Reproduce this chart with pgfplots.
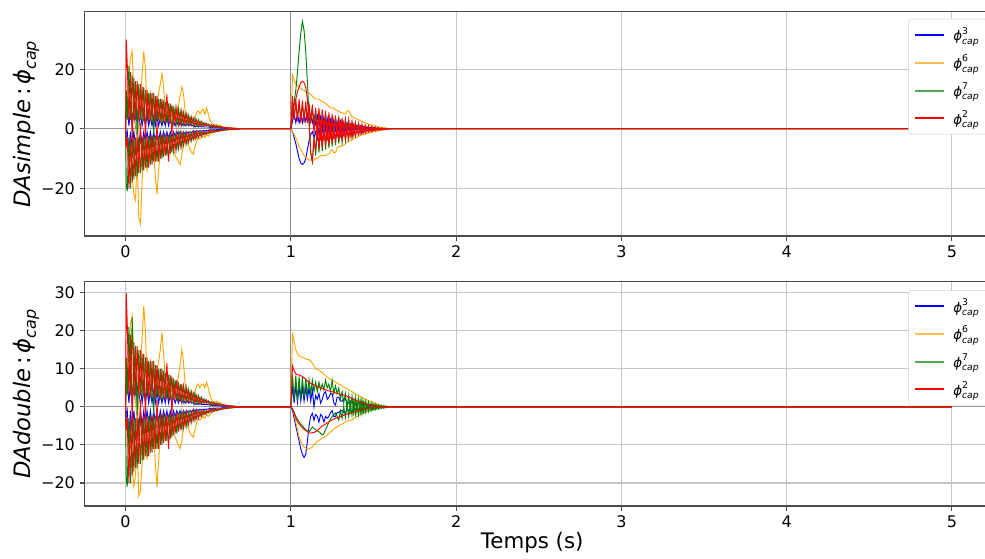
\documentclass[border=0pt]{standalone}
\usepackage{fontspec}
\setmainfont{DejaVu Sans}
\usepackage{pgfplots}
\usepackage{pgfplotstable}
\pgfplotsset{compat=1.18}
\definecolor{mplblue}{RGB}{0,0,255}
\definecolor{mplorange}{RGB}{255,165,0}
\definecolor{mplgreen}{RGB}{0,128,0}
\definecolor{mplred}{RGB}{255,0,0}
\definecolor{legorange}{RGB}{255,190,80}
\definecolor{leggreen}{RGB}{80,170,80}
\definecolor{legframe}{RGB}{210,210,210}
\newcommand{\lphi}[1]{$\mbox{\itshape ϕ}^{\mbox{\fontsize{7}{8}\selectfont #1}}_{\mbox{\fontsize{7}{8}\selectfont\itshape cap}}$}
\newcommand{\yphi}{$\mbox{\itshape ϕ}_{\mbox{\fontsize{12}{14}\selectfont\itshape cap}}$}

\pgfplotstableread{
t     b1   b2   o1   o2   g1   g2   r1   r2
0     0    0    0    0    0    0    0    0
0.004 5   -3    6   -6   13  -19   30   -6
0.01  7.7 -1    8   -5    3  -21   22   -3
0.02  1   -7   18  -12   21   -3    3  -20
0.03  6.7 -1   24   -8    3  -20   19   -3
0.04  1  -6.3  26  -16   18   -3   -4  -18
0.05  6   -1   12  -22    3  -17   17   -3
0.06  1  -5.6   2  -24   16   -3    3  -16
0.07  5.6 -1   -6  -10   -2  -16   16   -3
0.08  1  -5.3   3  -30   15   -3    3  -15
0.09  5.3 -1   10  -32    3  -15   15    2
0.10  1  -4.9  18  -18   14   -3    3  -14
0.11  4.9 -1   26   -6  2.5  -14   14 -2.5
0.12  1  -4.6  20  -10   13 -2.5   -3  -13
0.13  4.6 -1    6  -14  2.5  -13   13 -2.5
0.14  1  -4.6   9   -8   12 -2.5  2.5  -13
0.15  4.2 -1   12   -5  2.5  -12   12 -2.5
0.16  1  -4.2   5   -9   12 -2.5  2.5  -12
0.17  4.2 -1    8   -7   -2  -11   12 -2.5
0.18  1  -3.9   4  -16   11 -2.5  2.5  -11
0.19  3.9 -1    9  -22  2.5  -11   11    2
0.20  1  -3.9  12  -14   10 -2.5  2.5  -11
0.21  3.5 -1   15   -8    2  -10   10   -2
0.22  1  -3.5 18.5  -6   10   -2    2  -10
0.23  3.3 -1   14   -4    2 -9.5  9.5   -2
0.24  1  -3.2   7   -7    9   -2    2   -9
0.25  4   -1    5   -5    2   -9 11.5   -2
0.26  1  -3.9   6   -4  8.5   -2    2  -11
0.27  3   -1    4   -6    2 -8.5  8.5   -2
0.28  1  -2.8   5   -5    8   -2   -2   -8
0.29  2.6 -1    3   -7    2 -7.5  7.5   -2
0.30  1  -2.5   4   -9    7   -2    2   -7
0.31  2.5 -1    6  -10  1.5   -7    7 -1.5
0.32  1  -2.3   8  -11  6.5 -1.5  1.5 -6.5
0.33  2.1 -1   11  -12  1.5   -6    6 -1.5
0.34  1  -2.1  14   -9    6 -1.5  1.5   -6
0.35  1.9 -1   12   -5  1.5 -5.5  5.5 -1.5
0.36  1  -1.8   6   -4    5 -1.5  1.5   -5
0.37  1.8 -1    4 -4.5  1.5   -5    5 -1.5
0.38  1  -1.6   3 -5.5  4.5 -1.5  1.5 -4.5
0.39  1.4 -1  3.5   -7  1.5   -4    4 -1.5
0.40  1  -1.4 2.5   -8    4 -1.5  1.5   -4
0.41  1.2 -0.6  3 -8.5    1 -3.5  3.5   -1
0.42  0.6 -1.2  4   -6  3.5   -1    1 -3.5
0.43  1  -0.6 5.5   -4    1   -3    3   -1
0.44  0.6 -1    6   -3    3   -1    1   -3
0.45  0.9 -0.6  5 -3.5    1 -2.5  2.5   -1
0.46  0.6 -0.9  6   -3  2.5   -1    1 -2.5
0.47  0.7 -0.6 6.5 -2.5   1   -2    2   -1
0.48  0.6 -0.7  5   -3    2   -1    1   -2
0.49  0.6 -0.6  7   -2    1 -1.8  1.8   -1
0.50  0.6 -0.6  5 -2.5  1.6   -1    1 -1.6
0.51  0.5 -0.3  3   -2  0.5 -1.4  1.4 -0.5
0.52  0.3 -0.5  2 -1.5  1.3 -0.5  0.5 -1.3
0.53  0.4 -0.3 1.5 -1.2 0.5 -1.2  1.2 -0.5
0.54  0.3 -0.4 1.2  -1  1.1 -0.5  0.5 -1.1
0.55  0.4 -0.3 1.5  -1  0.5   -1    1 -0.5
0.56  0.3 -0.3  1 -0.8  0.9 -0.5  0.5 -0.9
0.57  0.3 -0.3 1.3 -0.7 0.4 -0.8  0.8 -0.4
0.58  0.2 -0.3 0.8 -0.5 0.7 -0.4  0.4 -0.7
0.59  0.2 -0.2 0.6 -0.4 0.3 -0.6  0.6 -0.3
0.60  0.2 -0.2 0.5 -0.3 0.5 -0.3  0.3 -0.5
0.61  0.1 -0.1 0.4 -0.3 0.2 -0.45 0.45 -0.2
0.62  0.1 -0.1 0.3 -0.2 0.4 -0.2  0.2 -0.4
0.63  0.1 -0.1 0.3 -0.2 0.2 -0.35 0.35 -0.2
0.64  0.1 -0.1 0.2 -0.1 0.3 -0.2  0.2 -0.3
0.65  0    0   0.2 -0.1 0.1 -0.25 0.25 -0.1
0.66  0    0   0.1  0   0.2 -0.1  0.1 -0.2
0.67  0    0   0.1  0   0.1 -0.15 0.15 -0.1
0.68  0    0    0   0   0.1 -0.1  0.1 -0.1
0.69  0    0    0   0    0  -0.1  0.1    0
0.70  0    0    0   0    0    0    0    0
1.00  0    0    0   0    0    0    0    0
1.01  2.5  -1    18    -1     6     7     5    11
1.02  5    -3    16.5  -2     9     4     8     3
1.03  2    -5    15    -3     13    8     10   10
1.04  5   -7.5   14.5  -4.5   19    4   12.5  2.5
1.05  2   -10    14    -6     26    8     14   10
1.06  5  -11.5   13.5  -7     32    4   15.5    2
1.07  2   -12    13    -8     36    8     16  9.5
1.08  5  -11.5   13    -9     33  3.5   15.5    2
1.09  2.5 -10    12.5  -9.5   26    8     14    9
1.10  5   -7     12    -10    16    3     10    2
1.11  2.5 -4     12   -10.5    4  7.5      2  8.5
1.12  4.5 -2     11.5 -10.5   -8  2.5     -8    2
1.13  2   -1     11   -10.5  -11    7    -11    8
1.14  4.5 -3     10.5 -10.5   -3    1   -3.5   -2
1.15  1.5 -1     10    -10    -9  6.5   -7.5    7
1.16  4.5 -3.5   10    -10     1    0    2.5   -3
1.17  1    0     10   -9.5    -8    6     -7    7
1.18  4   -3     9.5   -9      2   -1      3   -4
1.19  0.5  0     9     -9   -7.5  5.5   -6.5  6.5
1.20  4   -3     9     -9      2 -1.5      3   -4
1.21  0    0.5   8.5   -9     -7    5     -6    6
1.22  3.5 -3     8    -8.5   1.5   -2    2.5   -4
1.23  0    0.5   7.5  -8.5  -6.5  4.5   -5.5  5.5
1.24  3   -2.5   7    -7.5   1.5   -2      2 -3.5
1.25 -0.5  0.5   7     -7     -6    4     -5    5
1.26  3   -2.5   7     -8      1   -2      2 -3.5
1.27 -0.5  0.5   6.5   -8   -5.5    4   -4.5  4.5
1.28  2.5 -2     6    -6.5     1 -1.5      2   -3
1.29 -0.5  0.5   6     -6     -5  3.5     -4    4
1.30  2.5 -2     5.5   -6      1 -1.5    1.5   -3
1.31 -0.5  0.5   5.5  -5.5  -4.5    3   -3.8  3.5
1.32  2   -1.5   5    -5.5     1 -1.5    1.5 -2.5
1.33 -0.5  0.5   5     -5     -4    3   -3.4    3
1.34  2   -1.5   6    -4.5   0.8   -1    1.2 -2.5
1.35  0    0.3   6     -4   -3.5  2.5     -3    3
1.36  1.5 -1.2   5     -4    0.8   -1      1   -2
1.37  0    0.3   4    -3.5    -3    2   -2.6  2.5
1.38  1.5 -1     3.8  -3.5   0.6   -1    0.8   -2
1.39  0    0.2   3.5   -3   -2.5  1.8   -2.2    2
1.40  1.2 -0.8   3.2   -3    0.5 -0.8    0.6 -1.6
1.41  0    0.2   3    -2.5    -2  1.5   -1.8  1.8
1.42  1   -0.7   2.7  -2.2   0.4 -0.6    0.5 -1.4
1.43  0    0.1   2.5   -2   -1.7  1.2   -1.5  1.5
1.44  0.8 -0.5   2.2   -2    0.3 -0.5    0.4 -1.2
1.45  0    0.1   2    -1.8  -1.4    1   -1.2  1.2
1.46  0.6 -0.4   1.8  -1.6   0.2 -0.4    0.3   -1
1.47  0    0     1.5  -1.5  -1.1  0.8     -1    1
1.48  0.5 -0.3   1.4  -1.3   0.2 -0.3    0.2 -0.8
1.49  0    0     1.2  -1.2  -0.9  0.6   -0.8  0.8
1.50  0.4 -0.2   1     -1    0.1 -0.2    0.1 -0.6
1.51  0    0     0.9   -1   -0.7  0.5   -0.6  0.6
1.52  0.3 -0.1   0.8  -0.8   0.1 -0.2    0.1 -0.5
1.53  0    0     0.6  -0.7  -0.5  0.4   -0.4  0.4
1.54  0.2 -0.1   0.5  -0.6   0.1 -0.1    0.1 -0.3
1.55  0    0     0.4  -0.5  -0.4  0.3   -0.3  0.3
1.56  0.1  0     0.3  -0.4     0 -0.1      0 -0.2
1.57  0    0     0.2  -0.3  -0.3  0.2   -0.2  0.2
1.58  0.1  0     0.2  -0.2     0    0      0 -0.1
1.59  0    0     0.1  -0.1  -0.1  0.1   -0.1  0.1
1.60  0    0     0     0      0    0      0    0
5.00  0    0     0     0      0    0      0    0
}\topdata

\pgfplotstableread{
t     b1   b2   o1   o2   g1   g2   r1   r2
0     0    0    0    0    0    0    0    0
0.004 5   -3    6   -6   13  -19   30   -6
0.01  7.7 -1    8   -5    3  -21   22   -3
0.02  1   -7   16  -12   21   -3    3  -20
0.03  6.7 -1   22   -8    3  -20   19   -3
0.04  1  -6.3  24  -16 23.5   -3   -4  -18
0.05  6   -1   12  -21    3  -17   17   -3
0.06  1  -5.6   2  -18   16   -3    3  -16
0.07  5.6 -1   -5  -10   -2  -16   16   -3
0.08  1  -5.3   3 -23.5  15   -3    3  -15
0.09  5.3 -1   10  -22    3  -15   15    2
0.10  1  -4.9  18  -15   14   -3    3  -14
0.11  4.9 -1 26.5   -6  2.5  -14   14 -2.5
0.12  1  -4.6  20  -10   13 -2.5   -3  -13
0.13  4.6 -1    6  -14  2.5  -13   13 -2.5
0.14  1  -4.6   9   -8   12 -2.5  2.5  -13
0.15  4.2 -1   12   -5  2.5  -12   12 -2.5
0.16  1  -4.2   5   -9   12 -2.5  2.5  -12
0.17  4.2 -1    8   -7   -2  -11   12 -2.5
0.18  1  -3.9   4  -15   11 -2.5  2.5  -11
0.19  3.9 -1    9  -21  2.5  -11   11    2
0.20  1  -3.9  12  -14   10 -2.5  2.5  -11
0.21  3.5 -1   15   -8    2  -10   10   -2
0.22  1  -3.5 19.5  -6   10   -2    2  -10
0.23  3.3 -1   14   -4    2 -9.5  9.5   -2
0.24  1  -3.2   7   -7    9   -2    2   -9
0.25  4   -1    5   -5    2   -9 11.5   -2
0.26  1  -3.9   6   -4  8.5   -2    2  -11
0.27  3   -1    4   -6    2 -8.5  8.5   -2
0.28  1  -2.8   5   -5    8   -2   -2   -8
0.29  2.6 -1    3   -7    2 -7.5  7.5   -2
0.30  1  -2.5   4   -8    7   -2    2   -7
0.31  2.5 -1    6   -9  1.5   -7    7 -1.5
0.32  1  -2.3   8  -10  6.5 -1.5  1.5 -6.5
0.33  2.1 -1   11  -11  1.5   -6    6 -1.5
0.34  1  -2.1  15   -9    6 -1.5  1.5   -6
0.35  1.9 -1   12   -5  1.5 -5.5  5.5 -1.5
0.36  1  -1.8   6   -4    5 -1.5  1.5   -5
0.37  1.8 -1    4 -4.5  1.5   -5    5 -1.5
0.38  1  -1.6   3 -5.5  4.5 -1.5  1.5 -4.5
0.39  1.4 -1  3.5   -7  1.5   -4    4 -1.5
0.40  1  -1.4 2.5 -7.5    4 -1.5  1.5   -4
0.41  1.2 -0.6  3   -8    1 -3.5  3.5   -1
0.42  0.6 -1.2  4   -6  3.5   -1    1 -3.5
0.43  1  -0.6 5.5   -4    1   -3    3   -1
0.44  0.6 -1    6   -3    3   -1    1   -3
0.45  0.9 -0.6  5 -3.5    1 -2.5  2.5   -1
0.46  0.6 -0.9  6   -3  2.5   -1    1 -2.5
0.47  0.7 -0.6  6 -2.5    1   -2    2   -1
0.48  0.6 -0.7  5   -3    2   -1    1   -2
0.49  0.6 -0.6 6.5  -2    1 -1.8  1.8   -1
0.50  0.6 -0.6  5 -2.5  1.6   -1    1 -1.6
0.51  0.5 -0.3  3   -2  0.5 -1.4  1.4 -0.5
0.52  0.3 -0.5  2 -1.5  1.3 -0.5  0.5 -1.3
0.53  0.4 -0.3 1.5 -1.2 0.5 -1.2  1.2 -0.5
0.54  0.3 -0.4 1.2  -1  1.1 -0.5  0.5 -1.1
0.55  0.4 -0.3 1.5  -1  0.5   -1    1 -0.5
0.56  0.3 -0.3  1 -0.8  0.9 -0.5  0.5 -0.9
0.57  0.3 -0.3 1.3 -0.7 0.4 -0.8  0.8 -0.4
0.58  0.2 -0.3 0.8 -0.5 0.7 -0.4  0.4 -0.7
0.59  0.2 -0.2 0.6 -0.4 0.3 -0.6  0.6 -0.3
0.60  0.2 -0.2 0.5 -0.3 0.5 -0.3  0.3 -0.5
0.61  0.1 -0.1 0.4 -0.3 0.2 -0.45 0.45 -0.2
0.62  0.1 -0.1 0.3 -0.2 0.4 -0.2  0.2 -0.4
0.63  0.1 -0.1 0.3 -0.2 0.2 -0.35 0.35 -0.2
0.64  0.1 -0.1 0.2 -0.1 0.3 -0.2  0.2 -0.3
0.65  0    0   0.2 -0.1 0.1 -0.25 0.25 -0.1
0.66  0    0   0.1  0   0.2 -0.1  0.1 -0.2
0.67  0    0   0.1  0   0.1 -0.15 0.15 -0.1
0.68  0    0    0   0   0.1 -0.1  0.1 -0.1
0.69  0    0    0   0    0  -0.1  0.1    0
0.70  0    0    0   0    0    0    0    0
1.00  0    0    0   0    0    0    0    0
1.01 5.5 -1 19.5 -0.5 8.5 -0.5 10.8 -0.5
1.02 1 -3 17 -2 2 -1.5 9.5 -1.5
1.03 5.5 -5 15 -4 8.3 -2.5 8.6 -3
1.04 1.2 -7 14 -6 1.5 -3.2 8.5 -3.8
1.05 5.3 -9 13.4 -8 8 -4 8.4 -4.5
1.06 1.5 -11 13.2 -9 2 -4.5 8.2 -5
1.07 5.2 -12.5 13 -10 7.8 -5 8 -5.5
1.08 1.5 -13.3 12.8 -10.5 2.5 -5.5 7.6 -5.9
1.09 5 -12.5 12.6 -10.8 7.5 -6 7.2 -6.2
1.10 2 -9 12.5 -11 3 -6.3 6.8 -6.5
1.11 5 -5 12.4 -11.1 7.2 -6.5 6.5 -6.8
1.12 1.5 -2.5 12 -10.8 3.5 -6 6.2 -6.9
1.13 4.5 -1.7 11.5 -10.5 7 -5.3 6 -6.8
1.14 0 -3.5 10.8 -10 4 -5.6 5.8 -6.7
1.15 3 -2 10 -9.5 6.5 -6 5.6 -6.5
1.16 2 -2.5 9.8 -9.1 4 -6.3 5.4 -6.2
1.17 3.5 -4 9.7 -8.8 6.5 -6.5 5.2 -5.8
1.18 1 -2 9.3 -8.5 4.5 -7 5 -5.4
1.19 2 -2.5 9 -8.2 6 -7.4 4.8 -5
1.20 3.5 -4 8.6 -8 4.5 -7 4.6 -4.8
1.21 4 -2.5 8.2 -7.8 7 -6 4.5 -4.5
1.22 2 -3 7.8 -7.4 5 -5 4.3 -4.2
1.23 2.5 -2.5 7.5 -7 6 -4 4.2 -4
1.24 3.5 -1.5 7.2 -6.6 4 -3.2 4.1 -3.7
1.25 3.5 -1 7 -6.2 7 -2.5 4 -3.4
1.26 1 -2.5 6.7 -5.8 3.5 -2 3.8 -3.2
1.27 0.5 -2.5 6.5 -5.5 5.5 -1.6 3.7 -3
1.28 2.5 -1.5 6.2 -5.2 3.5 -2.5 3.5 -2.8
1.29 2.5 -1.5 6 -5 5 -3.5 3.4 -2.7
1.30 1.5 -1 5.8 -4.7 2 -1 3.3 -2.5
1.31 1.5 -1 5.5 -4.5 4 -3 3.2 -2.4
1.32 2.2 -1.5 5.2 -4.2 1 0 3.1 -2.2
1.33 2 -1.5 5 -4 3.5 -2.8 3 -2.1
1.34 1.2 -0.8 4.8 -3.8 -0.5 0.5 2.8 -1.9
1.35 1 -0.8 4.5 -3.6 3 -2.5 2.6 -1.8
1.36 1.5 -1 4.2 -3.5 -1 1 2.4 -1.7
1.37 1.5 -1 4 -3.4 2.8 -2.2 2.2 -1.6
1.38 0.8 -0.6 3.7 -3.1 -1.5 1.5 2 -1.4
1.39 0.5 -0.5 3.4 -2.8 2.5 -2 1.8 -1.3
1.40 1 -0.6 3.2 -2.5 -1.5 1.5 1.6 -1.1
1.41 1 -0.6 3 -2.3 2.2 -2 1.5 -1
1.42 0.5 -0.4 2.7 -2 -1.5 1.5 1.3 -0.8
1.43 0.3 -0.3 2.4 -1.8 2 -1.8 1.1 -0.7
1.44 0.6 -0.3 2.2 -1.6 -1.2 1.2 0.9 -0.6
1.45 0.6 -0.3 2 -1.4 1.6 -1.5 0.8 -0.5
1.46 0.3 -0.2 1.8 -1.2 -1 1 0.7 -0.4
1.47 0.2 -0.1 1.6 -1.1 1.3 -1.2 0.6 -0.3
1.48 0.3 -0.1 1.5 -0.9 -0.8 0.8 0.5 -0.25
1.49 0.3 -0.1 1.4 -0.8 1 -1 0.4 -0.2
1.50 0.1 0 1.2 -0.7 -0.6 0.6 0.35 -0.15
1.51 0 0 1 -0.6 0.8 -0.8 0.3 -0.1
1.52 0.1 0 0.8 -0.5 -0.5 0.5 0.25 -0.1
1.53 0 0 0.6 -0.4 0.6 -0.6 0.2 0
1.54 0 0 0.4 -0.3 -0.4 0.4 0.15 0
1.55 0 0 0.3 -0.2 0.4 -0.4 0.1 0
1.56 0 0 0.2 -0.1 -0.3 0.3 0.1 0
1.57 0 0 0.2 -0.1 0.3 -0.3 0 0
1.58 0 0 0.1 0 -0.2 0.2 0 0
1.59 0 0 0.1 0 0.1 -0.1 0 0
1.60 0 0 0 0 0 0 0 0
5.00 0 0 0 0 0 0 0 0
}\botdata

\pgfplotsset{
  base/.style={
    scale only axis, width=681.75pt, height=168.2pt,
    anchor=south west,
    xmin=-0.25, xmax=5.25,
    xtick={0,1,2,3,4,5}, xticklabels={0,1,2,3,4,5},
    xtick pos=left, ytick pos=left,
    tick align=outside, major tick length=3.5pt,
    axis line style={color=black!70, line width=0.8pt},
    tick style={color=black!70, line width=0.8pt},
    grid=major, grid style={color=black!22, line width=0.8pt},
    extra x ticks={1}, extra x tick labels={},
    extra x tick style={grid style={color=black!45, line width=0.6pt}, major tick length=0pt},
    extra y ticks={0}, extra y tick labels={},
    extra y tick style={grid style={color=black!40, line width=0.6pt}, major tick length=0pt},
    tick label style={font=\fontsize{12}{14}\selectfont},
    /pgf/number format/assume math mode=true,
    ylabel style={font=\fontsize{17}{20}\selectfont, at={(axis description cs:-0.064,0.5)}, anchor=center},
    every axis plot/.append style={line width=0.7pt},
    legend cell align=left,
    legend style={anchor=north east, draw=legframe, rounded corners=2pt, fill=white,
      font=\fontsize{10}{12}\selectfont,
      row sep=5pt, column sep=4pt, inner sep=4pt},
  }
}

\begin{document}
\begin{tikzpicture}
\useasboundingbox (0,0) rectangle (738.75pt,419.25pt);
\begin{axis}[base, at={(63.2pt,242.25pt)},
  ymin=-36, ymax=39.3, ytick={-20,0,20}, yticklabels={−20,0,20},
  ylabel={\textit{DAsimple}\,:\,\yphi},
  legend style={at={(0.994,0.968)}},
  legend image code/.code={\draw[#1, line width=1.5pt] (0pt,0pt) -- (22pt,0pt);}]
\addplot[mplblue, forget plot] table[x=t,y=b1]{\topdata};
\addplot[mplblue, forget plot] table[x=t,y=b2]{\topdata};
\addplot[mplorange, forget plot] table[x=t,y=o1]{\topdata};
\addplot[mplorange, forget plot] table[x=t,y=o2]{\topdata};
\addplot[mplgreen, forget plot] table[x=t,y=g1]{\topdata};
\addplot[mplgreen, forget plot] table[x=t,y=g2]{\topdata};
\addplot[mplred, forget plot] table[x=t,y=r1]{\topdata};
\addplot[mplred, forget plot] table[x=t,y=r2]{\topdata};
\addlegendimage{color=mplblue}\addlegendentry{\lphi{3}}
\addlegendimage{color=legorange}\addlegendentry{\lphi{6}}
\addlegendimage{color=leggreen}\addlegendentry{\lphi{7}}
\addlegendimage{color=mplred}\addlegendentry{\lphi{2}}
\end{axis}
\begin{axis}[base, at={(63.2pt,39.75pt)},
  ymin=-26.05, ymax=32.9, ytick={-20,-10,0,10,20,30}, yticklabels={−20,−10,0,10,20,30},
  ylabel={\textit{DAdouble}\,:\,\yphi},
  xlabel={Temps (s)},
  xlabel style={font=\fontsize{16}{19}\selectfont, at={(axis description cs:0.4928,-0.165)}, anchor=center},
  legend style={at={(0.994,0.963)}},
  legend image code/.code={\draw[#1, line width=1.5pt] (0pt,0pt) -- (22pt,0pt);}]
\addplot[mplblue, forget plot] table[x=t,y=b1]{\botdata};
\addplot[mplblue, forget plot] table[x=t,y=b2]{\botdata};
\addplot[mplorange, forget plot] table[x=t,y=o1]{\botdata};
\addplot[mplorange, forget plot] table[x=t,y=o2]{\botdata};
\addplot[mplgreen, forget plot] table[x=t,y=g1]{\botdata};
\addplot[mplgreen, forget plot] table[x=t,y=g2]{\botdata};
\addplot[mplred, forget plot] table[x=t,y=r1]{\botdata};
\addplot[mplred, forget plot] table[x=t,y=r2]{\botdata};
\addlegendimage{color=mplblue}\addlegendentry{\lphi{3}}
\addlegendimage{color=legorange}\addlegendentry{\lphi{6}}
\addlegendimage{color=leggreen}\addlegendentry{\lphi{7}}
\addlegendimage{color=mplred}\addlegendentry{\lphi{2}}
\end{axis}
\end{tikzpicture}
\end{document}
